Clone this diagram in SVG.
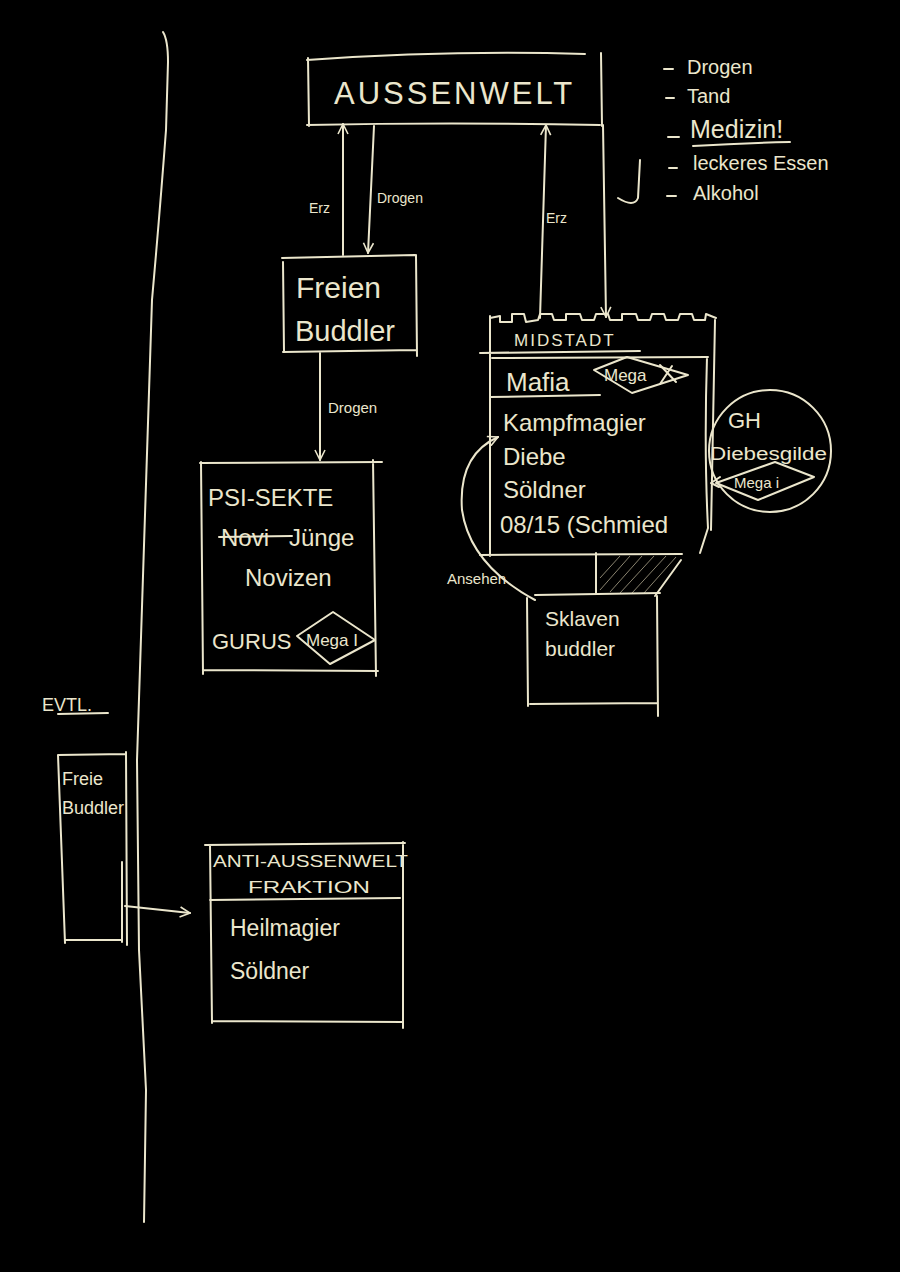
<svg xmlns="http://www.w3.org/2000/svg" width="900" height="1272" viewBox="0 0 900 1272">
<style>
.s{fill:none;stroke:#ebe6cc;stroke-width:2;stroke-linecap:round;stroke-linejoin:round}
.t{fill:#ebe6cc;font-family:"Liberation Sans",Arial,sans-serif}
.h{fill:none;stroke:#8a8470;stroke-width:1}
</style>
<defs>
<marker id="a" viewBox="0 0 12 12" refX="11" refY="6" markerWidth="12" markerHeight="12" markerUnits="userSpaceOnUse" orient="auto">
<path d="M1,1 L11,6 L1,11" fill="none" stroke="#ebe6cc" stroke-width="1.6"/>
</marker>
</defs>
<rect width="900" height="1272" fill="#000"/>
<path class="s" d="M163,32 Q168,40 168,62 L166,130 Q160,210 152,300 L137,760 L139,950 L146,1090 L144,1222"/>

<g id="aussenwelt">
<path class="s" d="M307,60 Q450,50 585,54 M308,58 L309,126 M601,53 L602,126 M307,125 Q450,122 600,125"/>
<text class="t" x="334" y="104" font-size="31" letter-spacing="3">AUSSENWELT</text>
</g>

<g id="liste">
<path class="s" d="M664,69 L673,69 M666,98 L674,98 M668,137 L679,137 M669,168 L677,168 M667,196 L676,196 M693,146 Q740,143 790,142"/>
<text class="t" x="687" y="74" font-size="20">Drogen</text>
<text class="t" x="687" y="103" font-size="20">Tand</text>
<text class="t" x="690" y="138" font-size="25">Medizin!</text>
<text class="t" x="693" y="170" font-size="20">leckeres Essen</text>
<text class="t" x="693" y="200" font-size="20">Alkohol</text>
</g>

<g id="freie-buddler">
<path class="s" d="M282,258 L415,255 M283,262 L284,352 M416,255 L417,356 M283,352 L416,350"/>
<text class="t" x="296" y="298" font-size="30">Freien</text>
<text class="t" x="295" y="341" font-size="29">Buddler</text>
</g>

<g id="psi-sekte">
<path class="s" d="M200,463 L382,462 M201,462 L203,674 M373,460 L376,676 M203,670 L378,671"/>
<text class="t" x="208" y="506" font-size="24">PSI-SEKTE</text>
<text class="t" x="221" y="546" font-size="24">Novi</text>
<path class="s" d="M219,537 L292,536"/>
<text class="t" x="289" y="546" font-size="24">Jünge</text>
<text class="t" x="245" y="586" font-size="24">Novizen</text>
<text class="t" x="212" y="649" font-size="22">GURUS</text>
<path class="s" d="M297,636 L333,612 L375,640 L330,664 Z"/>
<text class="t" x="306" y="646" font-size="17">Mega I</text>
</g>

<g id="midstadt">
<path class="s" d="M490,318 L500,316 L500,322 L512,322 L512,314 L524,314 L526,322 L538,320 L540,314 L552,314 L554,320 L566,320 L566,314 L580,314 L582,320 L594,320 L596,314 L608,314 L610,320 L622,320 L622,314 L636,314 L638,320 L650,320 L652,314 L664,314 L666,320 L678,320 L680,314 L692,314 L694,320 L705,320 L706,314 L716,318"/>
<path class="s" d="M490,316 L490,556 M715,320 Q713,420 711,530 M707,357 Q704,450 708,528 L700,553 M480,353 L640,351 M492,358 L708,357 M480,555 L682,554"/>
<text class="t" x="514" y="346" font-size="17" letter-spacing="2" fill="#e0cfc0">MIDSTADT</text>
<text class="t" x="506" y="391" font-size="26">Mafia</text>
<path class="s" d="M490,397 L600,395"/>
<path class="s" d="M594,370 L627,357 L688,375 L632,393 Z"/>
<text class="t" x="604" y="381" font-size="17">Mega</text>
<path class="s" d="M660,365 L676,382 M672,366 L660,384"/>
<text class="t" x="503" y="431" font-size="24">Kampfmagier</text>
<text class="t" x="503" y="465" font-size="24">Diebe</text>
<text class="t" x="503" y="498" font-size="24">Söldner</text>
<text class="t" x="500" y="533" font-size="24">08/15 (Schmied</text>
<path class="s" d="M596,553 L596,593 M681,560 L655,596"/>
<path class="h" d="M600,590 L630,556 M610,592 L642,556 M620,593 L654,556 M632,593 L666,556 M644,593 L676,557 M600,578 L620,556"/>
</g>

<g id="gh-diebesgilde">
<circle class="s" cx="770" cy="451" r="61"/>
<text class="t" x="728" y="428" font-size="22">GH</text>
<text class="t" x="710" y="460" font-size="18" textLength="117" lengthAdjust="spacingAndGlyphs">Diebesgilde</text>
<path class="s" d="M716,483 L775,462 L814,477 L758,500 Z"/>
<text class="t" x="734" y="488" font-size="15">Mega i</text>
<path class="s" d="M720,477 L711,483 L719,487"/>
</g>

<g id="sklavenbuddler">
<path class="s" d="M535,595 L660,593 M527,598 L528,706 M657,596 L658,716 M530,704 L658,703"/>
<text class="t" x="545" y="626" font-size="21">Sklaven</text>
<text class="t" x="545" y="656" font-size="21">buddler</text>
</g>

<g id="evtl">
<text class="t" x="42" y="711" font-size="18">EVTL.</text>
<path class="s" d="M58,714 L108,713"/>
</g>

<g id="freie-buddler-klein">
<path class="s" d="M58,755 L126,754 M58,755 L65,943 M126,752 L127,945 M122,862 L122,942 M65,940 L122,940"/>
<text class="t" x="62" y="785" font-size="18">Freie</text>
<text class="t" x="62" y="814" font-size="18">Buddler</text>
</g>

<g id="anti-aussenwelt">
<path class="s" d="M205,845 L405,843 M210,845 L212,1023 M403,842 L403,1028 M210,900 L400,898 M212,1021 L403,1022"/>
<text class="t" x="213" y="867" font-size="17" textLength="195" lengthAdjust="spacingAndGlyphs">ANTI-AUSSENWELT</text>
<text class="t" x="248" y="893" font-size="17" textLength="122" lengthAdjust="spacingAndGlyphs">FRAKTION</text>
<text class="t" x="230" y="936" font-size="23">Heilmagier</text>
<text class="t" x="230" y="979" font-size="23">Söldner</text>
</g>

<g id="connectors">
<path class="s" d="M343,255 L343,124" marker-end="url(#a)"/>
<path class="s" d="M374,126 L368,253" marker-end="url(#a)"/>
<path class="s" d="M540,318 L546,125" marker-end="url(#a)"/>
<path class="s" d="M603,125 L606,317" marker-end="url(#a)"/>
<path class="s" d="M640,160 L638,198 Q634,208 618,198"/>
<path class="s" d="M320,353 L320,460" marker-end="url(#a)"/>
<path class="s" d="M535,600 Q470,565 462,510 Q458,455 498,437" marker-end="url(#a)"/>
<path class="s" d="M125,906 L190,913" marker-end="url(#a)"/>
<text class="t" x="309" y="213" font-size="14">Erz</text>
<text class="t" x="377" y="203" font-size="14">Drogen</text>
<text class="t" x="546" y="223" font-size="14">Erz</text>
<text class="t" x="328" y="413" font-size="15">Drogen</text>
<text class="t" x="447" y="584" font-size="15">Ansehen</text>
</g>
</svg>
